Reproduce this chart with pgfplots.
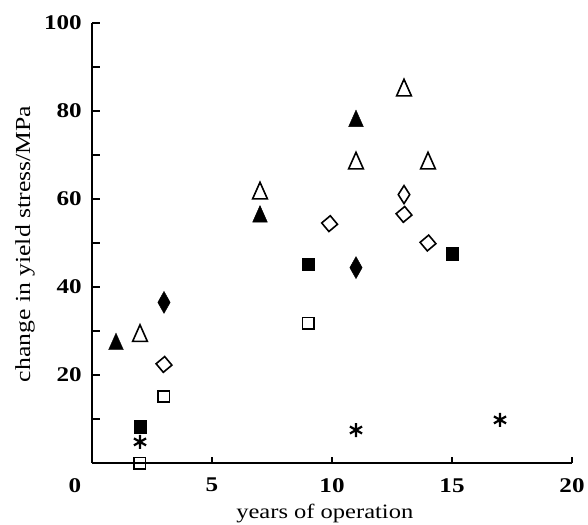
\documentclass[border=0pt]{standalone}
\usepackage{pgfplots}
\pgfplotsset{compat=1.18}
\usepackage{fontspec}
\setmainfont{Liberation Serif}[FakeStretch=1.2]
\begin{document}
\begin{tikzpicture}
\begin{axis}[
  at={(0,0)}, anchor=south west,
  scale only axis, width=480bp, height=440bp,
  xmin=0, xmax=20, ymin=0, ymax=100,
  clip=false,
  axis lines=left,
  axis line style={-, line width=1.3bp, black},
  xtick={5,10,15,20},
  ytick={20,40,60,80,100},
  minor ytick={10,30,50,70,90},
  tick align=inside,
  every tick/.style={black, line width=1.2bp},
  major tick length=8bp, minor tick length=8bp,
  xtick style={/pgfplots/major tick length=6bp},
  /pgf/number format/assume math mode=true,
  ticklabel style={font=\fontsize{21}{24}\selectfont\bfseries},
  yticklabel style={inner sep=0pt, anchor=east, xshift=-10bp},
  xticklabel style={inner sep=0pt, anchor=north, yshift=-15bp},
  xlabel={years of operation},
  ylabel={change in yield stress/MPa},
  every axis x label/.style={at={(axis description cs:0.485,0)}, anchor=base, yshift=-55bp, font=\fontsize{20.5}{24}\selectfont},
  every axis y label/.style={at={(axis description cs:0,0.5)}, rotate=90, anchor=center, yshift=67bp, xshift=-1bp, font=\fontsize{21.5}{24}\selectfont},
]
% filled triangles
\addplot[only marks, mark=triangle*, mark size=8.5bp, mark options={yscale=1.3, fill=black, draw=black}]
  coordinates {(1,27.0) (7,56.0) (11,77.7)};
% open triangles
\addplot[only marks, mark=triangle, mark size=8.5bp, mark options={yscale=1.3, fill=white, draw=black, line width=1.6bp}]
  coordinates {(2,28.9) (7,61.3) (11,68.1) (13,84.7) (14,68.1)};
% filled diamonds
\addplot[only marks, mark=diamond*, mark size=11bp, mark options={xscale=0.75, fill=black, draw=black}]
  coordinates {(3,36.5) (11,44.4)};
% open diamonds (tilted squares)
\addplot[only marks, mark=square, mark size=5.6bp, mark options={rotate=40, fill=white, draw=black, line width=1.6bp}]
  coordinates {(3,22.4) (9.9,54.4) (13,56.5) (14,50.0)};
\addplot[only marks, mark=diamond, mark size=9bp, mark options={xscale=0.85, fill=white, draw=black, line width=1.6bp}]
  coordinates {(13,61.0)};
% filled squares
\addplot[only marks, mark=square*, mark size=6.3bp, mark options={fill=black, draw=black}]
  coordinates {(2,8.2) (9,45.2) (15,47.6)};
% open squares
\addplot[only marks, mark=square, mark size=5.7bp, mark options={fill=white, draw=black, line width=1.6bp}]
  coordinates {(2,0) (3,15.1) (9,31.8)};
% asterisks
\addplot[only marks, mark=asterisk, mark size=7bp, mark options={draw=black, line width=2.2bp}]
  coordinates {(2,4.8) (11,7.5) (17,9.8)};
\node[anchor=north, inner sep=0pt, font=\fontsize{21}{24}\selectfont\bfseries] at (axis cs:0,0) [xshift=-17bp, yshift=-15bp] {0};
\end{axis}
\pgfresetboundingbox
\path (-92bp,-62bp) rectangle (496bp,463bp);
\end{tikzpicture}
\end{document}
